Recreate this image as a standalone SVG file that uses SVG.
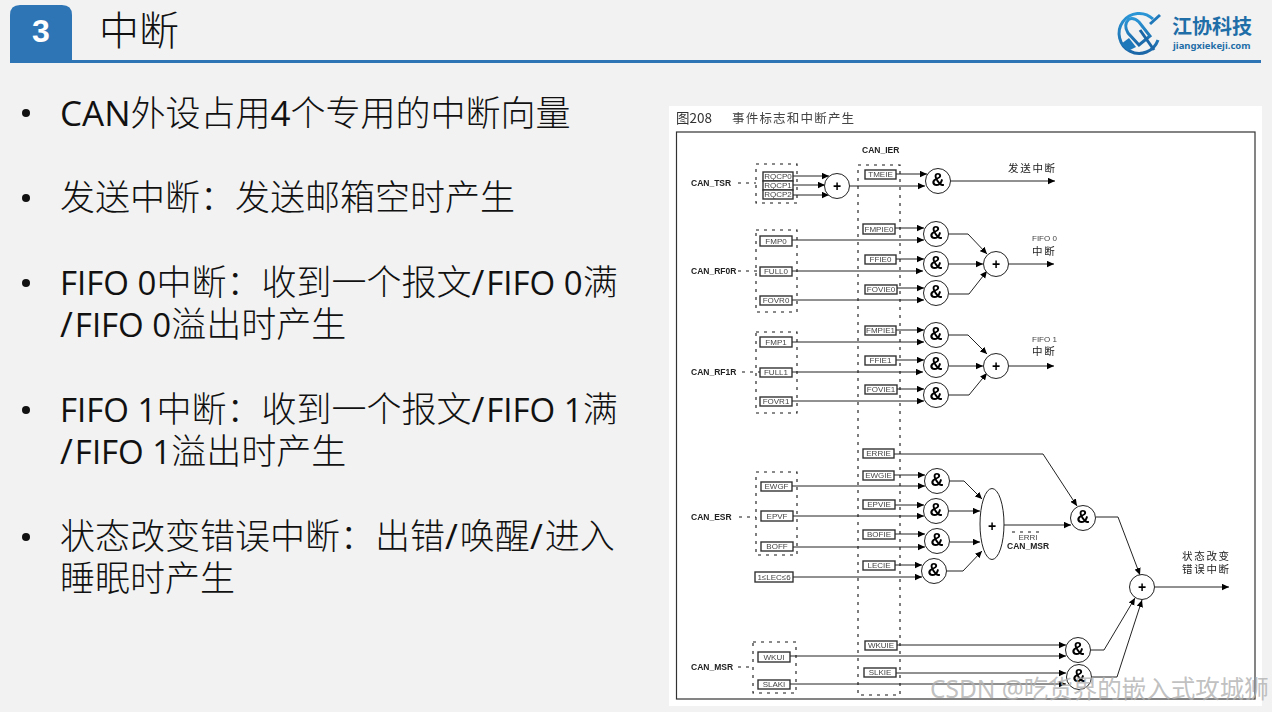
<svg xmlns="http://www.w3.org/2000/svg" width="1272" height="712" viewBox="0 0 1272 712">
<style>
.b{font-family:"Open Sans","Noto Sans CJK SC",sans-serif;font-size:33px;fill:#111}
.z{font-family:"Noto Sans CJK SC",sans-serif;font-size:35px;font-weight:300}
.w{font-size:35px}
.r{fill:#fff;stroke:#333;stroke-width:1.4}
.rt{font-family:"Liberation Sans",sans-serif;font-size:8px;fill:#444;text-anchor:middle;dominant-baseline:central}
.l{font-family:"Liberation Sans",sans-serif;font-size:8.5px;font-weight:bold;fill:#222;dominant-baseline:central}
.cn{font-family:"Noto Sans CJK SC",sans-serif;font-size:10.5px;fill:#222;letter-spacing:1.7px}
.g{fill:#fff;stroke:#222;stroke-width:1}
.gt{font-family:"Liberation Sans",sans-serif;font-weight:bold;font-size:18px;fill:#000;text-anchor:middle;dominant-baseline:central}
.pt{font-family:"Liberation Sans",sans-serif;font-weight:bold;font-size:14px;fill:#000;text-anchor:middle;dominant-baseline:central}
.d{fill:none;stroke:#111;stroke-width:1.1;stroke-dasharray:3 5}
.c{fill:none;stroke:#222;stroke-width:1;marker-end:url(#a)}
</style>
<defs>
<marker id="a" markerUnits="userSpaceOnUse" markerWidth="7.500" markerHeight="7" refX="7" refY="3.500" orient="auto"><path d="M0 0.300L7 3.500L0 6.700Z" fill="#000"/></marker>
<linearGradient id="lg" x1="0" y1="0" x2="0" y2="1"><stop offset="0" stop-color="#2b96d6"/><stop offset="1" stop-color="#1b66a6"/></linearGradient>
<filter id="s" x="-2%" y="-2%" width="104%" height="104%"><feGaussianBlur stdDeviation="0.35"/></filter>
</defs>
<rect width="1272" height="712" fill="#f2f2f2"/>
<g id="header">
<path d="M10 60V15Q10 5 20 5H62Q72 5 72 15V60Z" fill="#2e75b6"/>
<rect x="10" y="60" width="1251" height="3" fill="#2e75b6"/>
<text x="41" y="42" font-family="Liberation Sans,sans-serif" font-weight="bold" font-size="32" fill="#fff" text-anchor="middle">3</text>
<text x="99" y="45" font-family="Noto Sans CJK SC,sans-serif" font-size="40" font-weight="300" fill="#111">中断</text>
</g>
<g id="logo">
<path d="M1153 19A20 20 0 1 0 1158 40" fill="none" stroke="url(#lg)" stroke-width="3"/>
<path d="M1150 24L1160 15" stroke="#1f78ba" stroke-width="3" fill="none"/>
<path d="M1129 19Q1134 17 1139 22L1150 36L1139 45L1128 33Q1123 25 1129 19Z" fill="none" stroke="url(#lg)" stroke-width="3"/>
<path d="M1121 44L1129 38L1136 47L1128 51Z" fill="#1f78ba"/>
<path d="M1140 30L1154 50" stroke="#1b66a6" stroke-width="3" fill="none"/>
<text x="1172" y="34" font-family="Noto Sans CJK SC,sans-serif" font-weight="bold" font-size="20" fill="#1f6ea8">江协科技</text>
<text x="1173" y="49" font-family="Noto Sans,sans-serif" font-weight="bold" font-size="9.500" fill="#1f6ea8">jiangxiekeji.com</text>
</g>
<g id="bullets">
<circle cx="26" cy="113" r="4" fill="#111"/><circle cx="26" cy="198" r="4" fill="#111"/><circle cx="26" cy="283" r="4" fill="#111"/><circle cx="26" cy="410" r="4" fill="#111"/><circle cx="26" cy="537" r="4" fill="#111"/>
<text class="b" x="60" y="126"><tspan class="w">CAN</tspan><tspan class="z">外设占用</tspan><tspan class="w">4</tspan><tspan class="z">个专用的中断向量</tspan></text>
<text class="b" x="60" y="210"><tspan class="z">发送中断：发送邮箱空时产生</tspan></text>
<text class="b" x="60" y="295">FIFO 0<tspan class="z">中断：收到一个报文</tspan><tspan class="w">/</tspan><tspan dx="2">FIFO 0</tspan><tspan class="z">满</tspan></text>
<text class="b" x="60" y="337"><tspan class="w">/</tspan><tspan dx="2">FIFO 0</tspan><tspan class="z">溢出时产生</tspan></text>
<text class="b" x="60" y="422">FIFO 1<tspan class="z">中断：收到一个报文</tspan><tspan class="w">/</tspan><tspan dx="2">FIFO 1</tspan><tspan class="z">满</tspan></text>
<text class="b" x="60" y="464"><tspan class="w">/</tspan><tspan dx="2">FIFO 1</tspan><tspan class="z">溢出时产生</tspan></text>
<text class="b" x="60" y="549"><tspan class="z">状态改变错误中断：出错</tspan><tspan class="w">/</tspan><tspan class="z" dx="2">唤醒</tspan><tspan class="w">/</tspan><tspan class="z" dx="2">进入</tspan></text>
<text class="b" x="60" y="591"><tspan class="z">睡眠时产生</tspan></text>
</g>
<rect x="669" y="106" width="593" height="600" fill="#fff"/>
<g filter="url(#s)">
<text x="676" y="123" font-family="Noto Sans CJK SC,sans-serif" font-size="13.500" fill="#333">图208</text>
<text x="732" y="123" font-family="Noto Sans CJK SC,sans-serif" font-size="12.500" letter-spacing="1.200" fill="#444">事件标志和中断产生</text>
<rect x="676.500" y="132" width="578.500" height="567" fill="none" stroke="#333" stroke-width="1.200"/>
<text class="l" x="862" y="150">CAN_IER</text>
<g id="groups">
<rect class="d" x="756" y="164" width="41" height="39"/>
<rect class="d" x="756" y="230" width="41" height="82"/>
<rect class="d" x="756" y="332" width="41" height="81"/>
<rect class="d" x="756" y="472" width="41" height="83"/>
<rect class="d" x="753" y="642" width="43" height="51"/>
<rect class="d" x="858" y="165" width="42" height="530"/>
<path class="d" d="M738 183H756M738 271H760M742 372H760M739 517H756M738 667H753M1012 532H1043"/>
</g>
<g id="connectors">
<path class="c" d="M793 176H829"/><path class="c" d="M793 185H825"/><path class="c" d="M793 195H829"/>
<path class="c" d="M850 186H925"/><path class="c" d="M896 174H927"/>
<path class="c" d="M951 181H1055"/>
<path class="c" d="M895 228H924"/><path class="c" d="M792 240H924"/>
<path class="c" d="M896 259H924"/><path class="c" d="M792 271H923"/>
<path class="c" d="M897 288H924"/><path class="c" d="M792 300H924"/>
<path class="c" d="M949 234H968L987 254"/><path class="c" d="M949 264H983"/><path class="c" d="M949 294H969L987 271"/>
<path class="c" d="M1009 264H1054"/>
<path class="c" d="M896 330H924"/><path class="c" d="M792 342H924"/>
<path class="c" d="M896 360H924"/><path class="c" d="M792 372H923"/>
<path class="c" d="M897 389H924"/><path class="c" d="M792 401H924"/>
<path class="c" d="M949 335H968L987 354"/><path class="c" d="M949 366H983"/><path class="c" d="M949 395H969L987 373"/>
<path class="c" d="M1009 366H1054"/>
<path class="c" d="M894 454H1043L1077 506"/>
<path class="c" d="M894 475H925"/><path class="c" d="M792 486H925"/>
<path class="c" d="M895 505H924"/><path class="c" d="M793 516H924"/>
<path class="c" d="M895 534H925"/><path class="c" d="M793 547H925"/>
<path class="c" d="M895 565H922"/><path class="c" d="M793 577H922"/>
<path class="c" d="M950 481H964L982 499"/><path class="c" d="M949 511H980"/><path class="c" d="M950 542H980"/><path class="c" d="M947 571H963L982 551"/>
<path class="c" d="M1004 525H1071"/>
<path class="c" d="M1096 517H1118L1140 575"/>
<path class="c" d="M1155 587H1229"/>
<path class="c" d="M897 645H1066"/><path class="c" d="M790 656H1066"/>
<path class="c" d="M896 673H1066"/><path class="c" d="M790 684H1066"/>
<path class="c" d="M1091 650H1104L1135 598"/>
<path class="c" d="M1092 677H1117L1142 600"/>
</g>
<g id="RQCP0"><rect class="r" x="763" y="172" width="30" height="9"/><text class="rt" x="778" y="176.500">RQCP0</text></g>
<g id="RQCP1"><rect class="r" x="763" y="181" width="30" height="9"/><text class="rt" x="778" y="185.500">RQCP1</text></g>
<g id="RQCP2"><rect class="r" x="763" y="190" width="30" height="9"/><text class="rt" x="778" y="194.500">RQCP2</text></g>
<g id="TMEIE"><rect class="r" x="865" y="170" width="31" height="9"/><text class="rt" x="880.500" y="174.500">TMEIE</text></g>
<g id="FMPIE0"><rect class="r" x="863" y="224" width="32" height="10"/><text class="rt" x="879" y="229">FMPIE0</text></g>
<g id="FFIE0"><rect class="r" x="865" y="255" width="31" height="9"/><text class="rt" x="880.500" y="259.500">FFIE0</text></g>
<g id="FOVIE0"><rect class="r" x="865" y="285" width="32" height="9"/><text class="rt" x="881" y="289.500">FOVIE0</text></g>
<g id="FMP0"><rect class="r" x="760" y="236" width="32" height="10"/><text class="rt" x="776" y="241">FMP0</text></g>
<g id="FULL0"><rect class="r" x="760" y="267" width="32" height="9"/><text class="rt" x="776" y="271.500">FULL0</text></g>
<g id="FOVR0"><rect class="r" x="760" y="296" width="32" height="9"/><text class="rt" x="776" y="300.500">FOVR0</text></g>
<g id="FMPIE1"><rect class="r" x="865" y="326" width="31" height="9"/><text class="rt" x="880.500" y="330.500">FMPIE1</text></g>
<g id="FFIE1"><rect class="r" x="865" y="356" width="31" height="9"/><text class="rt" x="880.500" y="360.500">FFIE1</text></g>
<g id="FOVIE1"><rect class="r" x="865" y="385" width="32" height="9"/><text class="rt" x="881" y="389.500">FOVIE1</text></g>
<g id="FMP1"><rect class="r" x="760" y="337" width="32" height="10"/><text class="rt" x="776" y="342">FMP1</text></g>
<g id="FULL1"><rect class="r" x="760" y="368" width="32" height="9"/><text class="rt" x="776" y="372.500">FULL1</text></g>
<g id="FOVR1"><rect class="r" x="760" y="397" width="32" height="9"/><text class="rt" x="776" y="401.500">FOVR1</text></g>
<g id="ERRIE"><rect class="r" x="863" y="449" width="31" height="9"/><text class="rt" x="878.500" y="453.500">ERRIE</text></g>
<g id="EWGIE"><rect class="r" x="863" y="471" width="31" height="9"/><text class="rt" x="878.500" y="475.500">EWGIE</text></g>
<g id="EPVIE"><rect class="r" x="863" y="500" width="32" height="9"/><text class="rt" x="879" y="504.500">EPVIE</text></g>
<g id="BOFIE"><rect class="r" x="863" y="530" width="32" height="9"/><text class="rt" x="879" y="534.500">BOFIE</text></g>
<g id="LECIE"><rect class="r" x="863" y="561" width="32" height="9"/><text class="rt" x="879" y="565.500">LECIE</text></g>
<g id="EWGF"><rect class="r" x="761" y="482" width="31" height="9"/><text class="rt" x="776.500" y="486.500">EWGF</text></g>
<g id="EPVF"><rect class="r" x="761" y="511" width="32" height="10"/><text class="rt" x="777" y="516">EPVF</text></g>
<g id="BOFF"><rect class="r" x="761" y="542" width="32" height="9"/><text class="rt" x="777" y="546.500">BOFF</text></g>
<g id="LEC"><rect class="r" x="755" y="572" width="38" height="10"/><text class="rt" x="774" y="577">1≤LEC≤6</text></g>
<g id="WKUIE"><rect class="r" x="865" y="641" width="32" height="9"/><text class="rt" x="881" y="645.500">WKUIE</text></g>
<g id="SLKIE"><rect class="r" x="864" y="668" width="32" height="9"/><text class="rt" x="880" y="672.500">SLKIE</text></g>
<g id="WKUI"><rect class="r" x="758" y="652" width="32" height="10"/><text class="rt" x="774" y="657">WKUI</text></g>
<g id="SLAKI"><rect class="r" x="758" y="680" width="32" height="9"/><text class="rt" x="774" y="684.500">SLAKI</text></g>
<g id="labels">
<text class="l" x="691" y="183">CAN_TSR</text>
<text class="l" x="691" y="271">CAN_RF0R</text>
<text class="l" x="691" y="372">CAN_RF1R</text>
<text class="l" x="691" y="517">CAN_ESR</text>
<text class="l" x="691" y="667">CAN_MSR</text>
<text class="rt" x="1028" y="537">ERRI</text>
<text class="l" x="1007" y="546">CAN_MSR</text>
<text class="cn" x="1008" y="172">发送中断</text>
<text x="1032" y="241" font-family="Liberation Sans,sans-serif" font-size="8" fill="#444">FIFO 0</text>
<text class="cn" x="1032" y="255">中断</text>
<text x="1032" y="342" font-family="Liberation Sans,sans-serif" font-size="8" fill="#444">FIFO 1</text>
<text class="cn" x="1032" y="355">中断</text>
<text class="cn" x="1182" y="560">状态改变</text>
<text class="cn" x="1182" y="573">错误中断</text>
</g>
<g id="or0"><circle class="g" cx="837" cy="186" r="12.500"/><text class="pt" x="837" y="186">+</text></g>
<g id="and0"><circle class="g" cx="938" cy="181" r="12.500"/><text class="gt" x="938" y="180">&amp;</text></g>
<g id="and1"><circle class="g" cx="936" cy="234" r="12.500"/><text class="gt" x="936" y="233">&amp;</text></g>
<g id="and2"><circle class="g" cx="936" cy="264" r="12.500"/><text class="gt" x="936" y="263">&amp;</text></g>
<g id="and3"><circle class="g" cx="936" cy="293" r="12.500"/><text class="gt" x="936" y="292">&amp;</text></g>
<g id="or1"><circle class="g" cx="996" cy="264" r="12.500"/><text class="pt" x="996" y="264">+</text></g>
<g id="and4"><circle class="g" cx="936" cy="335" r="12.500"/><text class="gt" x="936" y="334">&amp;</text></g>
<g id="and5"><circle class="g" cx="936" cy="365" r="12.500"/><text class="gt" x="936" y="364">&amp;</text></g>
<g id="and6"><circle class="g" cx="936" cy="395" r="12.500"/><text class="gt" x="936" y="394">&amp;</text></g>
<g id="or2"><circle class="g" cx="996" cy="366" r="12.500"/><text class="pt" x="996" y="366">+</text></g>
<g id="and7"><circle class="g" cx="937" cy="481" r="12.500"/><text class="gt" x="937" y="480">&amp;</text></g>
<g id="and8"><circle class="g" cx="936" cy="511" r="12.500"/><text class="gt" x="936" y="510">&amp;</text></g>
<g id="and9"><circle class="g" cx="937" cy="541" r="12.500"/><text class="gt" x="937" y="540">&amp;</text></g>
<g id="and10"><circle class="g" cx="934" cy="571" r="12.500"/><text class="gt" x="934" y="570">&amp;</text></g>
<g id="or3"><ellipse class="g" cx="992" cy="524" rx="12" ry="35.500"/><text class="pt" x="992" y="526">+</text></g>
<g id="and11"><circle class="g" cx="1083" cy="518" r="12.500"/><text class="gt" x="1083" y="517">&amp;</text></g>
<g id="or4"><circle class="g" cx="1142" cy="587" r="12.500"/><text class="pt" x="1142" y="587">+</text></g>
<g id="and12"><circle class="g" cx="1078" cy="650" r="12.500"/><text class="gt" x="1078" y="649">&amp;</text></g>
<g id="and13"><circle class="g" cx="1079" cy="677" r="12.500"/><text class="gt" x="1079" y="676">&amp;</text></g>
</g>
<text x="930" y="698" font-family="Noto Sans,Noto Sans CJK SC,sans-serif" font-size="24.500" fill="#b0b0b0" fill-opacity="0.8">CSDN @吃货界的嵌入式攻城狮</text>
</svg>
